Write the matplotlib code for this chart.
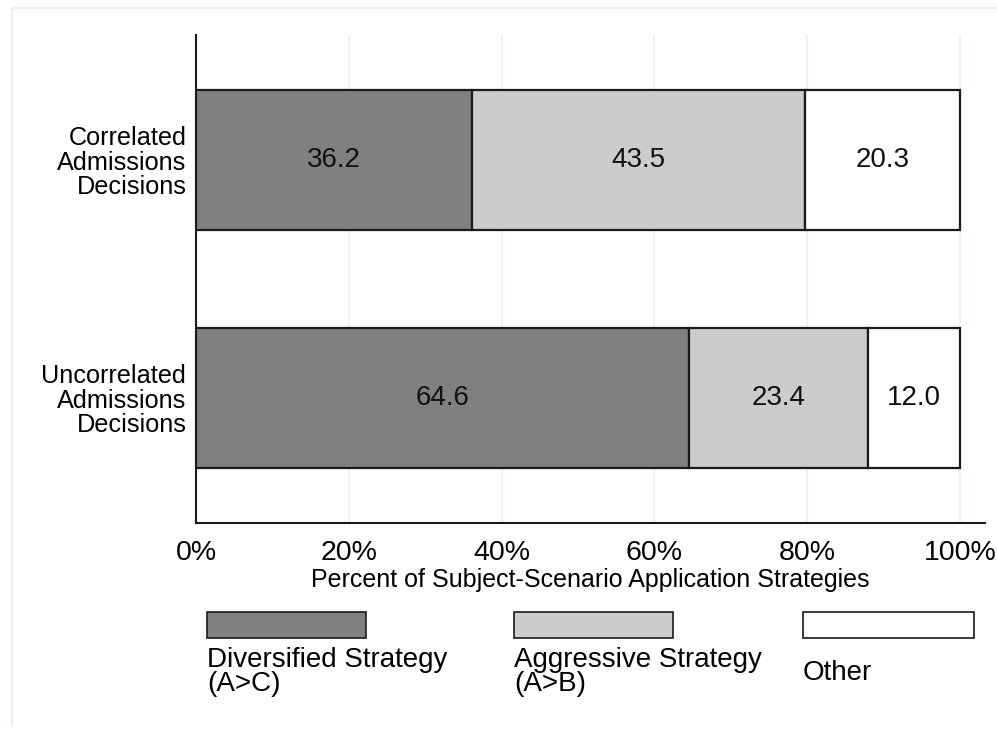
import matplotlib
matplotlib.use("Agg")
import matplotlib.pyplot as plt
from matplotlib.patches import Rectangle
from matplotlib.lines import Line2D
import numpy as np

plt.rcParams["font.family"] = ["Liberation Sans", "DejaVu Sans"]

# data
categories = ["Uncorrelated\nAdmissions\nDecisions", "Correlated\nAdmissions\nDecisions"]
diversified = [64.6, 36.2]
aggressive = [23.4, 43.5]
other = [12.0, 20.3]
series_names = ["Diversified Strategy\n(A>C)", "Aggressive Strategy\n(A>B)", "Other"]
series_colors = ["#808080", "#cccccc", "#ffffff"]
xticks = [0, 20, 40, 60, 80, 100]
xtick_labels = ["0%", "20%", "40%", "60%", "80%", "100%"]

W, H = 997, 730
fig = plt.figure(figsize=(W / 100, H / 100), dpi=100)
ax = fig.add_axes([196 / W, 1 - 523 / H, (985 - 196) / W, (523 - 35) / H])

ypos = np.arange(len(categories))
series = [diversified, aggressive, other]
left = np.zeros(len(categories))
for vals, col in zip(series, series_colors):
    bars = ax.barh(ypos, vals, left=left, height=0.59, color=col,
                   edgecolor="#1a1a1a", linewidth=1.6, zorder=3)
    ax.bar_label(bars, labels=["%.1f" % v for v in vals], label_type="center",
                 fontsize=20, color="#111111", zorder=4)
    left += np.array(vals)

ax.set_xlim(0, 103.3)
ax.set_ylim(-0.525, 1.525)
ax.set_xticks(xticks)
ax.set_xticklabels(xtick_labels, fontsize=20.5)
ax.set_yticks(ypos)
ax.set_yticklabels(categories, fontsize=18.2, linespacing=1.03)
ax.tick_params(axis="both", length=0)
ax.tick_params(axis="x", pad=12)
ax.tick_params(axis="y", pad=7)
ax.set_xlabel("Percent of Subject-Scenario Application Strategies", fontsize=18, labelpad=2)

for x in xticks[1:]:
    ax.axvline(x, color="#eaf2f3", linewidth=1.5, zorder=1)

for s in ["top", "right"]:
    ax.spines[s].set_visible(False)
for s in ["left", "bottom"]:
    ax.spines[s].set_linewidth(1.5)
    ax.spines[s].set_color("#1a1a1a")

# legend drawn below the plot in figure pixels
box_x = [(207, 366), (514, 673), (803, 974)]
for (x0, x1), col, name in zip(box_x, series_colors, series_names):
    fig.add_artist(Rectangle((x0 / W, 1 - 638 / H), (x1 - x0) / W, 26 / H,
                             transform=fig.transFigure, facecolor=col,
                             edgecolor="#1a1a1a", linewidth=1.2))
    if "\n" in name:
        fig.text(x0 / W, 1 - 647 / H, name, fontsize=20, va="top", ha="left",
                 linespacing=0.92)
    else:
        fig.text(x0 / W, 1 - 673 / H, name, fontsize=20, va="center", ha="left")

# faint outer frame
fig.add_artist(Line2D([12 / W, 12 / W], [1 - 8 / H, 1 - 725 / H], color="#e6eded", linewidth=1.2))
fig.add_artist(Line2D([12 / W, 1.0], [1 - 8 / H, 1 - 8 / H], color="#e6eded", linewidth=1.2))

fig.savefig("out.png", dpi=100)
